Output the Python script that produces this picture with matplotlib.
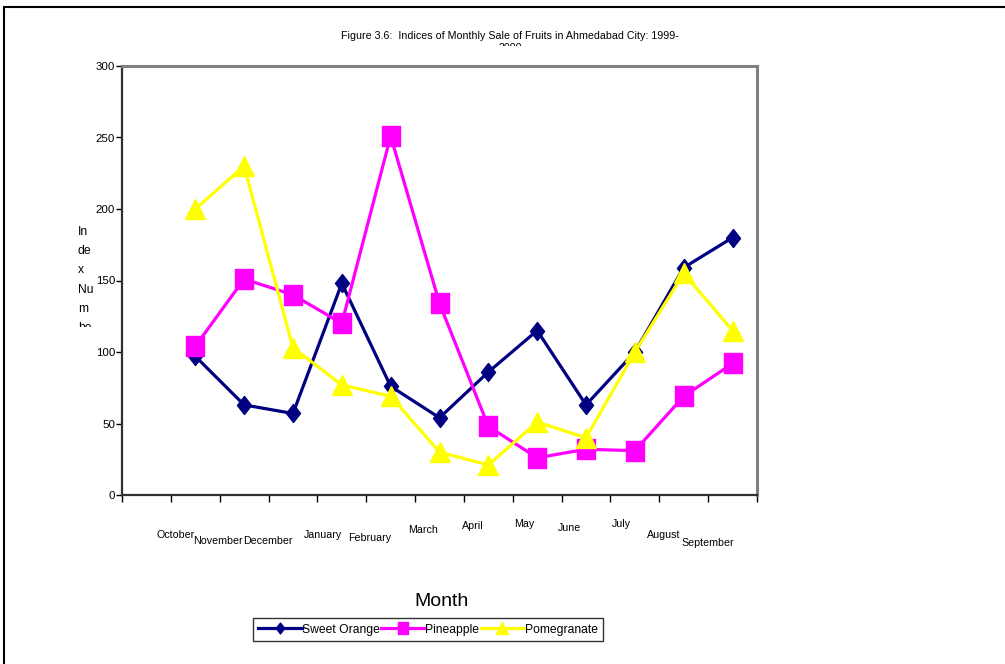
import numpy as np
import matplotlib
matplotlib.use('Agg')
import matplotlib.pyplot as plt
from matplotlib.patches import Rectangle
from matplotlib.path import Path
from matplotlib.transforms import Bbox, TransformedBbox
from matplotlib import font_manager

# Datos
months = ['October', 'November', 'December', 'January', 'February', 'March',
          'April', 'May', 'June', 'July', 'August', 'September']
sweet_orange = [97, 63, 57, 148, 76, 54, 86, 115, 63, 100, 159, 180]
pineapple = [104, 151, 140, 120, 251, 134, 48, 26, 32, 31, 69, 92]
pomegranate = [200, 230, 103, 77, 69, 30, 21, 51, 40, 100, 155, 115]

series_names = ['Sweet Orange', 'Pineapple', 'Pomegranate']
y_ticks = [0, 50, 100, 150, 200, 250, 300]

# Estilo (posiciones de etiquetas escalonadas, en px)
label_y_px = [535, 541, 541, 535, 538, 530, 526, 524, 528, 524, 535, 543]
label_x_px = [176, 218, 268, 323, 370, 423, 473, 524, 570, 621, 664, 708]
colors = ['#000080', '#FF00FF', '#FFFF00']

diamond = Path([(0, 1), (0.78, 0), (0, -1), (-0.78, 0), (0, 1)],
               [Path.MOVETO, Path.LINETO, Path.LINETO, Path.LINETO, Path.CLOSEPOLY])
tall_square = Path([(-0.85, -1), (0.85, -1), (0.85, 1), (-0.85, 1), (-0.85, -1)],
                   [Path.MOVETO, Path.LINETO, Path.LINETO, Path.LINETO, Path.CLOSEPOLY])
markers = [diamond, tall_square, '^']
msizes = [13, 15, 14]

# fuente estrecha si existe
names = {f.name for f in font_manager.fontManager.ttflist}
if 'Liberation Sans Narrow' in names:
    plt.rcParams['font.family'] = ['Liberation Sans Narrow', 'DejaVu Sans']
    k = 1.0
else:
    plt.rcParams['font.family'] = ['Liberation Sans', 'DejaVu Sans']
    k = 0.87

W, H = 1005, 664
fig = plt.figure(figsize=(W / 100, H / 100), dpi=100)
ax = fig.add_axes([122 / W, 1 - 495 / H, (757 - 122) / W, (495 - 66) / H])

x = np.arange(len(months))
handles = []
for vals, c, m, ms, name in zip([sweet_orange, pineapple, pomegranate], colors, markers, msizes, series_names):
    h, = ax.plot(x, vals, color=c, lw=2.3, marker=m, markersize=ms,
                 markeredgecolor=c, label=name)
    handles.append(h)

ax.set_xlim(-1.5, len(months) - 0.5)
ax.set_ylim(0, 300)
ax.set_yticks(y_ticks)
ax.tick_params(axis='y', direction='out', length=4, width=1, labelsize=9.5 * k, pad=1)
ax.set_xticks(np.arange(-1.5, len(months), 1))
ax.set_xticklabels([])
ax.tick_params(axis='x', direction='out', length=5, width=1)

for s in ['left', 'bottom']:
    ax.spines[s].set_color('#303030')
    ax.spines[s].set_linewidth(1.6)
for s in ['top', 'right']:
    ax.spines[s].set_color('#808080')
    ax.spines[s].set_linewidth(2.2)

# Etiquetas del eje X escalonadas
for mname, xpx, ypx in zip(months, label_x_px, label_y_px):
    fig.text(xpx / W, 1 - ypx / H, mname, ha='center', va='center', fontsize=8.8 * k)

# Titulo (recortado como en Excel)
t = fig.text(510 / W, 1 - 42 / H,
             'Figure 3.6:  Indices of Monthly Sale of Fruits in Ahmedabad City: 1999-\n2000',
             ha='center', va='center', fontsize=8.8 * k, linespacing=1.35)
clip = TransformedBbox(Bbox.from_extents(0, 1 - 46 / H, 1, 1), fig.transFigure)
t.set_clip_box(clip)
t.set_clip_on(True)

# Etiqueta Y recortada
yl = fig.text(78 / W, 1 - 226 / H, 'In\nde\nx\nNu\nm\nbe\nr', ha='left', va='top',
              fontsize=10 * k, linespacing=1.8)
clip_y = TransformedBbox(Bbox.from_extents(0, 1 - 327 / H, 1, 1), fig.transFigure)
yl.set_clip_box(clip_y)
yl.set_clip_on(True)

fig.text(441 / W, 1 - 602 / H, 'Month', ha='center', va='center', fontsize=16 * k)

leg = fig.legend(handles=handles, loc='center', bbox_to_anchor=(428 / W, 1 - 629.5 / H),
                 ncol=3, fontsize=10 * k, frameon=True, fancybox=False, handlelength=3.6,
                 handletextpad=0.05, columnspacing=0.1, borderpad=0.45, markerscale=0.6)
leg.get_frame().set_edgecolor('black')
leg.get_frame().set_linewidth(1.0)

# Borde exterior del grafico
fig.patches.append(Rectangle((4 / W, -0.1), 1.2, 1.1 - 7 / H, transform=fig.transFigure,
                             fill=False, edgecolor='black', lw=1.5))

fig.savefig('out.png', dpi=100)
